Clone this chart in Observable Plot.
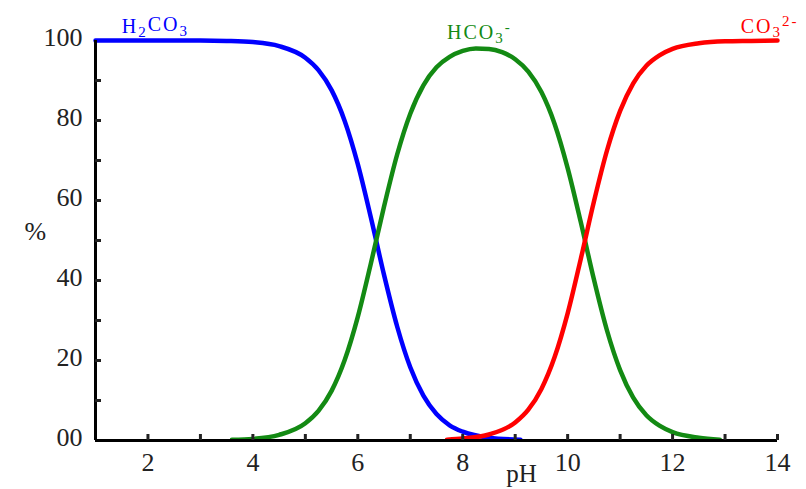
<!DOCTYPE html>
<html>
<head>
<meta charset="utf-8">
<script src="https://cdn.jsdelivr.net/npm/d3@7"></script>
<script src="https://cdn.jsdelivr.net/npm/@observablehq/plot@0.6"></script>
<style>
  body { margin: 0; background: #fff; }
  #chart svg { display: block; }
</style>
</head>
<body>
<div id="chart"></div>
<script>
// Data
const phH2CO3 = [1, 2, 3, 3.5, 4, 4.5, 5, 5.25, 5.5, 5.75, 6, 6.25, 6.5, 6.75, 7, 7.25, 7.5, 7.75, 8, 8.5, 9.1];
const h2co3   = [100, 100, 100, 99.9, 99.6, 98.6, 95.7, 92.6, 87.6, 79.9, 69.1, 55.7, 41.4, 28.5, 18.3, 11.2, 6.6, 3.8, 2.2, 0.7, 0.2];

const phHCO3 = [3.6, 4, 4.5, 5, 5.25, 5.5, 5.75, 6, 6.25, 6.5, 6.75, 7, 7.25, 7.5, 7.75, 8, 8.25, 8.5, 8.75, 9, 9.25, 9.5, 9.75, 10, 10.25, 10.5, 10.75, 11, 11.25, 11.5, 11.75, 12, 12.5, 12.9];
const hco3   = [0.2, 0.4, 1.4, 4.3, 7.4, 12.4, 20.1, 30.9, 44.3, 58.5, 71.5, 81.7, 88.8, 93.3, 95.9, 97.4, 98.0, 97.9, 97.1, 95.3, 92.2, 87.1, 79.2, 68.1, 54.6, 40.3, 27.5, 17.6, 10.7, 6.3, 3.7, 2.1, 0.7, 0.2];

const phCO3 = [7.7, 8, 8.5, 9, 9.25, 9.5, 9.75, 10, 10.25, 10.5, 10.75, 11, 11.25, 11.5, 11.75, 12, 12.5, 13, 13.5, 14];
const co3   = [0.2, 0.5, 1.5, 4.5, 7.7, 12.9, 20.8, 31.8, 45.4, 59.7, 72.5, 82.4, 89.3, 93.7, 96.3, 97.9, 99.3, 99.8, 99.9, 100];

const xTickValues = [2, 3, 4, 5, 6, 7, 8, 9, 10, 11, 12, 13, 14];
const xLabelValues = [2, 4, 6, 8, 10, 12, 14];
const yTickValues = [10, 20, 30, 40, 50, 60, 70, 80, 90];
const yLabelValues = [0, 20, 40, 60, 80, 100];

const seriesNames = ["H2CO3", "HCO3-", "CO32-"];
// label pieces: [text, "n" normal | "sub" subscript | "sup" superscript]
const seriesLabelParts = [
  [["H", "n"], ["2", "sub"], ["CO", "n"], ["3", "sub"]],
  [["HCO", "n"], ["3", "sub"], ["-", "sup"]],
  [["CO", "n"], ["3", "sub"], ["2-", "sup"]]
];
const seriesColors = ["#0000ff", "#138a13", "#ff0000"];
const labelPH = [1.5, 7.7, 13.3];
const labelPct = [100, 98.5, 100];

const toRows = (phs, vals, name) => phs.map((p, i) => ({pH: p, pct: vals[i], species: name}));
const rows = [
  ...toRows(phH2CO3, h2co3, seriesNames[0]),
  ...toRows(phHCO3, hco3, seriesNames[1]),
  ...toRows(phCO3, co3, seriesNames[2])
];
const labels = seriesNames.map((n, i) => ({name: n, pH: labelPH[i], pct: labelPct[i], color: seriesColors[i]}));

const font = "'Liberation Serif', 'Times New Roman', serif";

const chart = Plot.plot({
  width: 806,
  height: 489,
  marginLeft: 95,
  marginRight: 29,
  marginTop: 40,
  marginBottom: 49,
  style: {fontFamily: font, fontSize: "26px", color: "#222", background: "#fff"},
  x: {domain: [1, 14]},
  y: {domain: [0, 100]},
  color: {domain: seriesNames, range: seriesColors},
  marks: [
    Plot.line(rows, {x: "pH", y: "pct", z: "species", stroke: "species", strokeWidth: 4.5, curve: "monotone-x"}),
    Plot.ruleX([1], {stroke: "#000", strokeWidth: 3}),
    Plot.ruleY([0], {stroke: "#000", strokeWidth: 3}),
    Plot.axisY({ticks: yTickValues, tickSize: -6, strokeWidth: 3, text: null, label: null}),
    Plot.axisX({ticks: xTickValues, tickSize: -6, strokeWidth: 3, text: null, label: null}),
    Plot.axisY({ticks: yLabelValues, tickSize: 0, tickPadding: 13, dy: -3, tickFormat: d => d === 0 ? "00" : String(d), label: null, fill: "#222", fontSize: 26}),
    Plot.axisX({ticks: xLabelValues, tickSize: 0, tickPadding: 12, label: null, fill: "#222", fontSize: 26}),
    Plot.text(["%"], {frameAnchor: "left", dx: -71, dy: -9, fontSize: 26, fill: "#222"}),
    Plot.text(["pH"], {x: () => 9.12, y: () => 0, dy: 33, fontSize: 25, fill: "#222"}),
    Plot.text(labels, {x: "pH", y: "pct", text: "name", fill: "color", textAnchor: "start", dy: -14, fontSize: 20, className: "species-label"})
  ]
});

// rich text (sub/superscripts) for the species labels
d3.select(chart).selectAll(".species-label text").each(function(_, i) {
  const t = d3.select(this).attr("letter-spacing", "2px");
  t.text(null);
  for (const [s, kind] of seriesLabelParts[i]) {
    const sp = t.append("tspan").text(s);
    if (kind === "sub") sp.attr("font-size", "0.75em").attr("dy", "0.3em");
    else if (kind === "sup") sp.attr("font-size", "0.75em").attr("dy", "-0.75em");
    else sp.attr("dy", kind === "n" && sp.node().previousSibling ? "-0.3em" : null);
  }
});
document.getElementById("chart").appendChild(chart);
</script>
</body>
</html>
